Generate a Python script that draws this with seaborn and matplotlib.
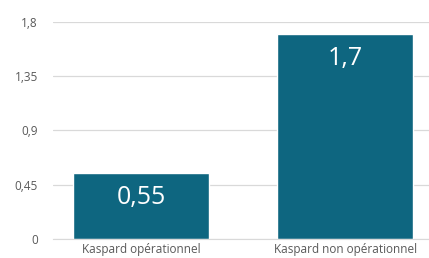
import matplotlib
matplotlib.use("Agg")
import matplotlib.pyplot as plt
import pandas as pd
import seaborn as sns

# Chart values
categories = ["Kaspard opérationnel", "Kaspard non opérationnel"]
values = [0.55, 1.7]
yticks = [0, 0.45, 0.9, 1.35, 1.8]

df = pd.DataFrame({"cat": categories, "val": values})

sns.set_style("white")
plt.rcParams["font.family"] = ["Open Sans", "DejaVu Sans"]

fig, ax = plt.subplots(figsize=(4.29, 2.58), dpi=100)
fig.subplots_adjust(left=0.124, right=1.0, top=0.915, bottom=0.074)

sns.barplot(data=df, x="cat", y="val", hue="cat", palette=["#0e6680", "#0e6680"],
            legend=False, width=0.665, saturation=1, ax=ax)

ax.set_xlim(-0.43, 1.41)
ax.set_ylim(0, 1.8)
ax.set_yticks(yticks)
ax.set_yticklabels([f"{t:g}".replace(".", ",") for t in yticks])
ax.yaxis.grid(True, color="#d9d9d9", linewidth=0.9)
ax.set_axisbelow(True)
for side in ["top", "right", "left"]:
    ax.spines[side].set_visible(False)
ax.spines["bottom"].set_color("#d9d9d9")
ax.set_xlabel("")
ax.set_ylabel("")
ax.tick_params(axis="both", length=0, labelsize=8.5, colors="#595959")
ax.tick_params(axis="y", pad=11)
ax.tick_params(axis="x", pad=3)

for cont in ax.containers:
    ax.bar_label(cont, labels=[f"{v:g}".replace(".", ",") for v in cont.datavalues],
                 padding=-27, color="white", fontsize=18)

fig.savefig("out.png", dpi=100)
